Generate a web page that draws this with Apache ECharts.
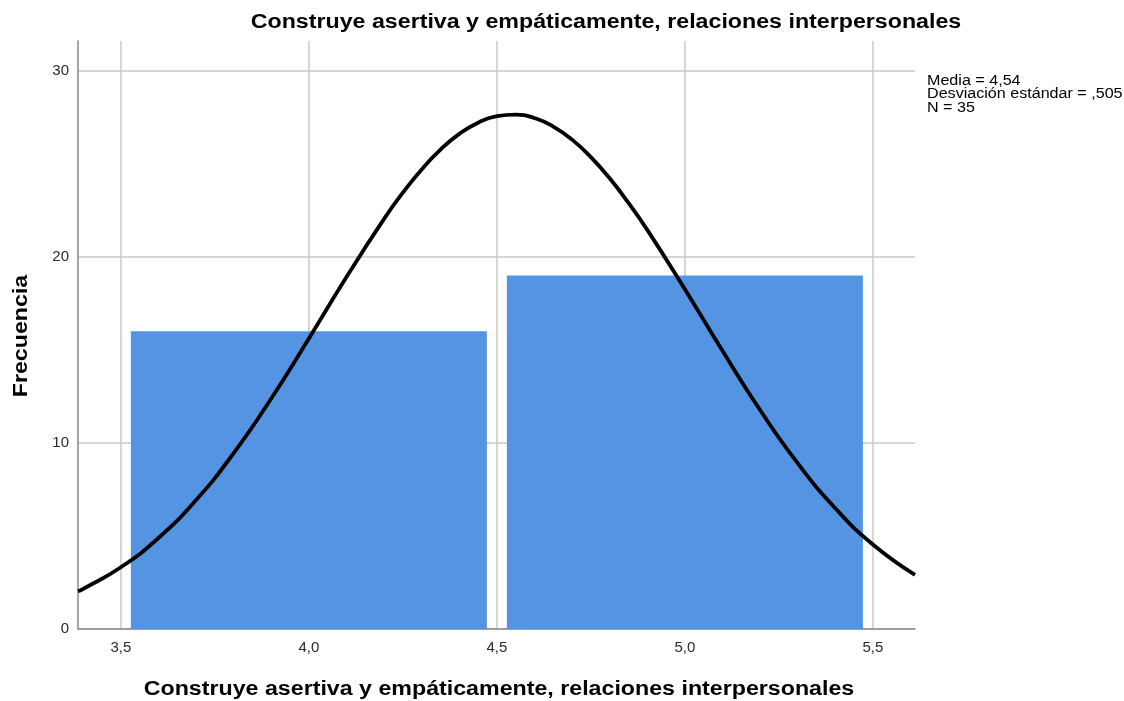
<!DOCTYPE html>
<html>
<head>
<meta charset="utf-8">
<script src="https://cdn.jsdelivr.net/npm/echarts@6/dist/echarts.min.js"></script>
<style>
html,body{margin:0;padding:0;background:#fff;}
#chart{width:1124px;height:701px;}
</style>
</head>
<body>
<div id="chart"></div>
<script>
var titleText = 'Construye asertiva y empáticamente, relaciones interpersonales';
var xAxisTitle = 'Construye asertiva y empáticamente, relaciones interpersonales';
var yAxisTitle = 'Frecuencia';
var statsLines = ['Media = 4,54', 'Desviación estándar = ,505', 'N = 35'];

var binStart = [3.5, 4.5];
var binEnd = [4.5, 5.5];
var frequencies = [16, 19];

var xTicks = [3.5, 4.0, 4.5, 5.0, 5.5];
var yTicks = [0, 10, 20, 30];

var curveX = [3.386, 3.4, 3.5, 3.6, 3.7, 3.8, 3.9, 4.0, 4.1, 4.2, 4.25, 4.3, 4.35, 4.4, 4.45, 4.5, 4.55, 4.6, 4.65, 4.7, 4.75, 4.8, 4.85, 4.9, 5.0, 5.1, 5.2, 5.3, 5.4, 5.5, 5.612];
var curveY = [2.03, 2.16, 3.32, 4.89, 6.93, 9.45, 12.39, 15.61, 18.92, 22.04, 23.45, 24.70, 25.76, 26.61, 27.21, 27.56, 27.64, 27.46, 27.00, 26.30, 25.36, 24.22, 22.90, 21.45, 18.26, 14.95, 11.77, 8.91, 6.49, 4.54, 2.91];

var barData = binStart.map(function (s, i) { return [s, binEnd[i], frequencies[i]]; });
var lineData = curveX.map(function (x, i) { return [x, curveY[i]]; });

var chart = echarts.init(document.getElementById('chart'));
var fontFam = '"Liberation Sans", Arial, sans-serif';
chart.setOption({
  animation: false,
  backgroundColor: '#ffffff',
  grid: { left: 78, top: 41, right: 209, bottom: 72, containLabel: false },
  xAxis: {
    type: 'value',
    min: 3.386,
    max: 5.612,
    axisLine: { show: true, lineStyle: { color: '#8a8a8a', width: 1.5 } },
    axisTick: { show: false, customValues: xTicks },
    axisLabel: {
      customValues: xTicks,
      color: '#2a2a2a',
      fontFamily: fontFam,
      fontSize: 15,
      margin: 11,
      formatter: function (v) { return v.toFixed(1).replace('.', ','); }
    },
    splitLine: { show: true, lineStyle: { color: '#c8c8c8', width: 1.5 } }
  },
  yAxis: {
    type: 'value',
    min: 0,
    max: 31.6,
    axisLine: { show: true, lineStyle: { color: '#8a8a8a', width: 1.5 } },
    axisTick: { show: false, customValues: yTicks },
    axisLabel: {
      customValues: yTicks,
      color: '#2a2a2a',
      fontFamily: fontFam,
      fontSize: 15,
      margin: 9
    },
    splitLine: { show: true, lineStyle: { color: '#c8c8c8', width: 1.5 } }
  },
  series: [
    {
      type: 'custom',
      data: barData,
      z: 2,
      renderItem: function (params, api) {
        var p0 = api.coord([api.value(0), api.value(2)]);
        var p1 = api.coord([api.value(1), 0]);
        var inset = 10;
        return {
          type: 'rect',
          shape: { x: p0[0] + inset, y: p0[1], width: p1[0] - p0[0] - 2 * inset, height: p1[1] - p0[1] },
          style: { fill: '#5594e2' }
        };
      }
    },
    {
      type: 'line',
      data: lineData,
      smooth: true,
      symbol: 'none',
      z: 3,
      clip: true,
      lineStyle: { color: '#000', width: 3.8 }
    }
  ],
  graphic: [
    { type: 'text', x: 606, y: 22, scaleX: 1.16, style: { text: titleText, x: 0, y: 0, align: 'center', verticalAlign: 'middle', font: 'bold 20px ' + fontFam, fill: '#000' } },
    { type: 'text', x: 499, y: 689, scaleX: 1.16, style: { text: xAxisTitle, x: 0, y: 0, align: 'center', verticalAlign: 'middle', font: 'bold 20px ' + fontFam, fill: '#000' } },
    { type: 'text', x: 21, y: 336, rotation: Math.PI / 2, scaleX: 1.16, style: { text: yAxisTitle, x: 0, y: 0, align: 'center', verticalAlign: 'middle', font: 'bold 20px ' + fontFam, fill: '#000' } },
    { type: 'text', x: 927, y: 74, scaleX: 1.15, style: { text: statsLines.join('\n'), x: 0, y: 0, align: 'left', verticalAlign: 'top', font: '14px ' + fontFam, lineHeight: 13.5, fill: '#000' } }
  ]
});
</script>
</body>
</html>
